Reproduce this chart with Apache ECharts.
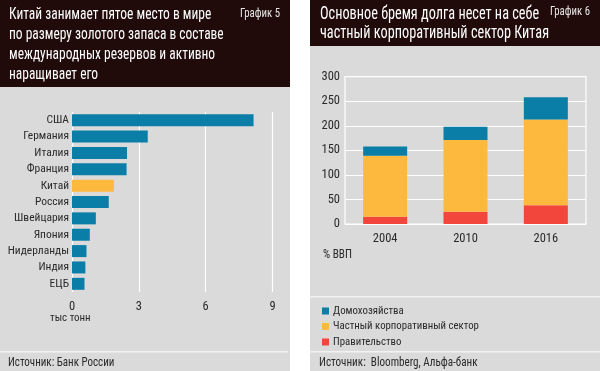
<!DOCTYPE html>
<html><head><meta charset="utf-8">
<script src="https://cdn.jsdelivr.net/npm/echarts@6/dist/echarts.min.js"></script>
<style>html,body{margin:0;padding:0;background:#fff}#c{width:600px;height:371px}</style>
</head><body><div id="c"></div>
<script>
// Left chart data (thousand tonnes of gold)
const countries = ['США','Германия','Италия','Франция','Китай','Россия','Швейцария','Япония','Нидерланды','Индия','ЕЦБ'];
const goldValues = [8.15, 3.4, 2.47, 2.45, 1.88, 1.65, 1.07, 0.8, 0.65, 0.6, 0.56];
const goldTicks = [0, 3, 6, 9];
// Right chart data (% of GDP)
const years = ['2004','2010','2016'];
const households = [19, 27, 45];
const corporate = [124, 146, 175];
const government = [15, 25, 38];
const debtSeriesNames = ['Домохозяйства','Частный корпоративный сектор','Правительство'];

const FONT = '"Roboto Condensed","DejaVu Sans Condensed",sans-serif';
const BLUE = '#0b7ea8', YELLOW = '#fdb93e', RED = '#f2453b', DARK = '#200a0a', GRAY = '#dadada', TXT = '#2a2a2a';

const chart = echarts.init(document.getElementById('c'));
const goldData = goldValues.map((v, i) => ({value: v, itemStyle: {color: countries[i] === 'Китай' ? YELLOW : BLUE}}));

function txt(x, y, text, size, color, sx, lh) {
  return {type: 'text', x: x, y: y, scaleX: sx, z: 5,
    style: {text: text, fill: color, font: size + 'px ' + FONT, lineHeight: lh || size * 1.2, align: 'left', verticalAlign: 'top'}};
}

chart.setOption({
  animation: false,
  textStyle: {fontFamily: FONT},
  graphic: [
    {type: 'rect', z: -10, shape: {x: 0, y: 0, width: 290, height: 371}, style: {fill: GRAY}},
    {type: 'rect', z: -10, shape: {x: 0, y: 0, width: 290, height: 87}, style: {fill: DARK}},
    {type: 'rect', z: -10, shape: {x: 310, y: 0, width: 290, height: 371}, style: {fill: GRAY}},
    {type: 'rect', z: -10, shape: {x: 310, y: 0, width: 290, height: 46}, style: {fill: DARK}},
    txt(9, 5, 'Китай занимает пятое место в мире\nпо размеру золотого запаса в составе\nмеждународных резервов и активно\nнаращивает его', 16.5, '#fff', 0.815, 20),
    txt(240, 7, 'График 5', 12, '#e6e6e6', 0.9),
    txt(320, 5, 'Основное бремя долга несет на себе\nчастный корпоративный сектор Китая', 17.5, '#fff', 0.815, 19),
    txt(550, 5, 'График 6', 12, '#e6e6e6', 0.9),
    txt(50, 311, 'тыс тонн', 11.5, TXT, 0.95),
    txt(323, 247, '% ВВП', 12.5, TXT, 0.9),
    {type: 'rect', shape: {x: 0, y: 351, width: 288, height: 1.5}, style: {fill: '#f2f2f2'}},
    {type: 'rect', shape: {x: 310, y: 296, width: 290, height: 1.5}, style: {fill: '#f2f2f2'}},
    {type: 'rect', shape: {x: 310, y: 351, width: 290, height: 1.5}, style: {fill: '#f2f2f2'}},
    txt(8, 355, 'Источник: Банк России', 12.5, TXT, 0.88),
    txt(319, 355, 'Источник:  Bloomberg, Альфа-банк', 12.5, TXT, 0.89)
  ],
  legend: {
    orient: 'vertical', left: 317, top: 300, itemWidth: 7, itemHeight: 7, itemGap: 3.5,
    icon: 'rect', data: debtSeriesNames,
    textStyle: {fontFamily: FONT, fontSize: 10.8, color: TXT, lineHeight: 12, padding: [0, 0, 0, -1]}
  },
  grid: [
    {left: 72, width: 200.5, top: 112, height: 180, outerBoundsMode: 'none', containLabel: false},
    {left: 345, width: 241, top: 76.7, height: 147.3, outerBoundsMode: 'none', containLabel: false, show: true, borderColor: '#fff', borderWidth: 1.2, backgroundColor: 'transparent'}
  ],
  xAxis: [
    {gridIndex: 0, type: 'value', min: 0, max: 9, interval: 3,
     axisLine: {show: false}, axisTick: {show: false},
     splitLine: {lineStyle: {color: '#fff', width: 1.2}},
     axisLabel: {color: TXT, fontSize: 12.5, margin: 8, fontFamily: FONT, formatter: v => goldTicks.includes(v) ? String(v) : ''}},
    {gridIndex: 1, type: 'category', data: years,
     axisLine: {show: false}, axisTick: {show: false},
     axisLabel: {color: TXT, fontSize: 12.5, margin: 8, fontFamily: FONT}}
  ],
  yAxis: [
    {gridIndex: 0, type: 'category', data: countries, inverse: true,
     axisLine: {show: false}, axisTick: {show: false},
     axisLabel: {interval: 0, color: TXT, fontSize: 11.5, margin: 3, fontFamily: FONT}},
    {gridIndex: 1, type: 'value', min: 0, max: 300, interval: 50,
     axisLine: {show: false}, axisTick: {show: false},
     splitLine: {lineStyle: {color: '#fff', width: 1.2}},
     axisLabel: {color: TXT, fontSize: 12.5, margin: 5, fontFamily: FONT}}
  ],
  series: [
    {type: 'bar', xAxisIndex: 0, yAxisIndex: 0, data: goldData, barWidth: 12},
    {name: debtSeriesNames[2], type: 'bar', stack: 'd', xAxisIndex: 1, yAxisIndex: 1, data: government, barWidth: 44, itemStyle: {color: RED}},
    {name: debtSeriesNames[1], type: 'bar', stack: 'd', xAxisIndex: 1, yAxisIndex: 1, data: corporate, barWidth: 44, itemStyle: {color: YELLOW}},
    {name: debtSeriesNames[0], type: 'bar', stack: 'd', xAxisIndex: 1, yAxisIndex: 1, data: households, barWidth: 44, itemStyle: {color: BLUE}}
  ]
});
</script></body></html>
